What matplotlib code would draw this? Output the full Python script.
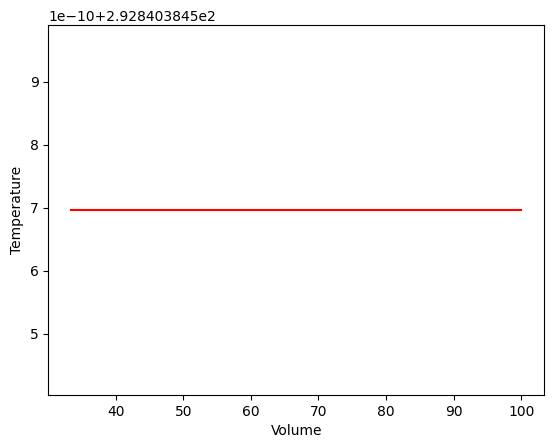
import numpy as np
import matplotlib
matplotlib.use('Agg')
import matplotlib.pyplot as plt

# volumes and the (constant) temperature
base = 292.8403845
volume = [100/3, 40, 50, 60, 70, 80, 90, 100]
temperature = [base + 6.97e-10] * len(volume)

ylim = (base + 4.03e-10, base + 9.90e-10)

fig = plt.figure(figsize=(5.54, 4.48), dpi=100)
ax = fig.add_axes([48.3/554, 53/448, 496/554, 370/448])

ax.plot(volume, temperature, 'r-')
ax.set_xlim(30.05, 103.4)
ax.set_ylim(*ylim)
ax.set_xlabel('Volume')
ax.set_ylabel('Temperature')

fig.savefig('out.png', dpi=100)
